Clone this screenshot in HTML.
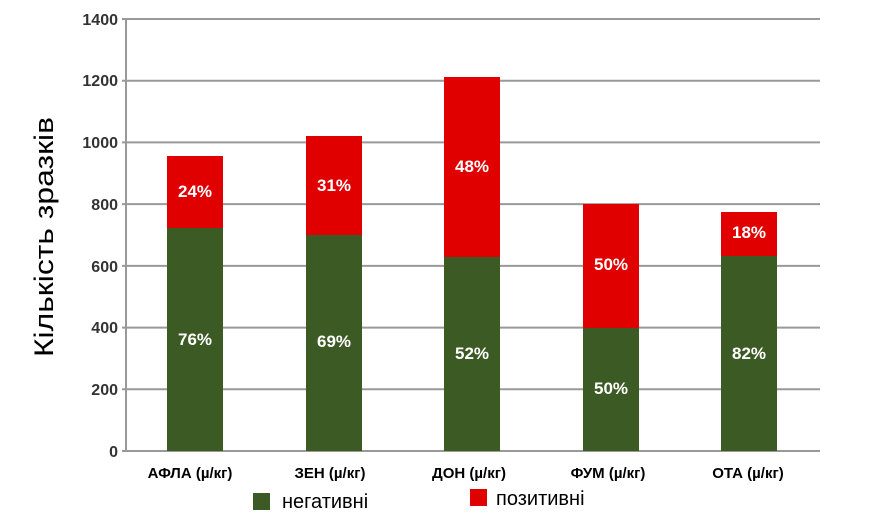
<!DOCTYPE html>
<html><head><meta charset="utf-8"><style>body{margin:0;background:#fff}svg{display:block}</style></head><body>
<svg width="869" height="519" xmlns="http://www.w3.org/2000/svg" font-family="'Liberation Sans', sans-serif">
<rect width="869" height="519" fill="#fff"/>
<g stroke="#999" stroke-width="2">
<line x1="122" y1="19" x2="820" y2="19"/>
<line x1="122" y1="80.7" x2="820" y2="80.7"/>
<line x1="122" y1="142.4" x2="820" y2="142.4"/>
<line x1="122" y1="204.1" x2="820" y2="204.1"/>
<line x1="122" y1="265.9" x2="820" y2="265.9"/>
<line x1="122" y1="327.6" x2="820" y2="327.6"/>
<line x1="122" y1="389.3" x2="820" y2="389.3"/>
<line x1="122" y1="451" x2="820" y2="451"/>
<line x1="126" y1="19" x2="126" y2="451"/>
</g>
<g font-size="16" font-weight="bold" fill="#333" text-anchor="end">
<text x="118" y="25">1400</text><text x="118" y="86">1200</text><text x="118" y="148">1000</text>
<text x="118" y="210">800</text><text x="118" y="272">600</text><text x="118" y="333">400</text>
<text x="118" y="395">200</text><text x="118" y="457">0</text>
</g>
<text transform="translate(53,237) rotate(-90)" font-size="27" text-anchor="middle" fill="#000" textLength="240" lengthAdjust="spacingAndGlyphs">Кількість зразків</text>
<g fill="#e00000">
<rect x="167" y="156" width="56" height="72"/>
<rect x="306" y="136" width="56" height="99"/>
<rect x="444" y="77" width="56" height="180"/>
<rect x="583" y="204" width="56" height="124"/>
<rect x="721" y="212" width="56" height="44"/>
</g>
<g fill="#3c5a23">
<rect x="167" y="228" width="56" height="223"/>
<rect x="306" y="235" width="56" height="216"/>
<rect x="444" y="257" width="56" height="194"/>
<rect x="583" y="328" width="56" height="123"/>
<rect x="721" y="256" width="56" height="195"/>
</g>
<g font-size="17" font-weight="bold" fill="#fff" text-anchor="middle">
<text x="195" y="197">24%</text><text x="334" y="191">31%</text><text x="472" y="172">48%</text>
<text x="611" y="270">50%</text><text x="749" y="238">18%</text>
<text x="195" y="345">76%</text><text x="334" y="347">69%</text><text x="472" y="359">52%</text>
<text x="611" y="394">50%</text><text x="749" y="359">82%</text>
</g>
<g font-size="15" font-weight="bold" fill="#000" text-anchor="middle">
<text x="190" y="478">АФЛА (µ/кг)</text><text x="330" y="478">ЗЕН (µ/кг)</text>
<text x="469" y="478">ДОН (µ/кг)</text><text x="608" y="478">ФУМ (µ/кг)</text>
<text x="748" y="478">ОТА (µ/кг)</text>
</g>
<rect x="253" y="493" width="17" height="17" fill="#3c5a23"/>
<text x="282" y="508" font-size="20" fill="#000">негативні</text>
<rect x="470" y="489" width="17" height="17" fill="#e00000"/>
<text x="496" y="505" font-size="20" fill="#000">позитивні</text>
</svg>
</body></html>
